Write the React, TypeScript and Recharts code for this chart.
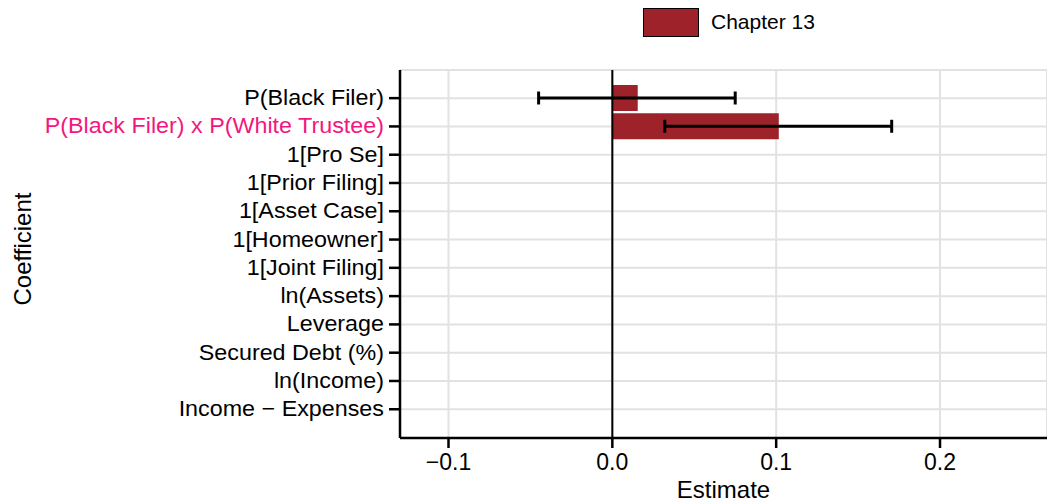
import React from 'react';
import { BarChart, Bar, XAxis, YAxis, CartesianGrid, ErrorBar, ReferenceLine } from 'recharts';

// Regression coefficients, top to bottom
const coefficients = [
  'P(Black Filer)',
  'P(Black Filer) x P(White Trustee)',
  '1[Pro Se]',
  '1[Prior Filing]',
  '1[Asset Case]',
  '1[Homeowner]',
  '1[Joint Filing]',
  'ln(Assets)',
  'Leverage',
  'Secured Debt (%)',
  'ln(Income)',
  'Income \u2212 Expenses',
];

// Point estimates and confidence bounds (Chapter 13); only the first two are plotted
const estimates: (number | null)[] = [0.0155, 0.1016, null, null, null, null, null, null, null, null, null, null];
const ciLow: (number | null)[] = [-0.045, 0.032, null, null, null, null, null, null, null, null, null, null];
const ciHigh: (number | null)[] = [0.075, 0.1705, null, null, null, null, null, null, null, null, null, null];

const highlighted = 'P(Black Filer) x P(White Trustee)';
const seriesName = 'Chapter 13';
const xTicks = [-0.1, 0, 0.1, 0.2];
const xDomain: [number, number] = [-0.1296, 0.2653];

const FONT = '"Liberation Sans", Arial, Helvetica, sans-serif';
const BAR_COLOR = '#9E2229';
const HIGHLIGHT_COLOR = '#F2177F';
const GRID_COLOR = '#E2E2E2';

const rows = coefficients.map((name, i) => {
  const est = estimates[i];
  const lo = ciLow[i];
  const hi = ciHigh[i];
  return {
    name,
    estimate: est,
    err: est == null || lo == null || hi == null ? undefined : [est - lo, hi - est],
  };
});

const fmtTick = (v: number) => (v < 0 ? `\u2212${Math.abs(v).toFixed(1)}` : v.toFixed(1));

const CoefTick = (props: any) => {
  const { x, y, payload } = props;
  const label = payload.value as string;
  return (
    <g transform={`translate(${x},${y})`}>
      <text
        transform="scale(1.06,1)"
        textAnchor="end"
        dy={7}
        fontSize={22}
        fontFamily={FONT}
        fill={label === highlighted ? HIGHLIGHT_COLOR : '#000'}
      >
        {label}
      </text>
    </g>
  );
};

const EstimateTick = (props: any) => {
  const { x, y, payload } = props;
  return (
    <text x={x} y={y} dy={18} textAnchor="middle" fontSize={23} fontFamily={FONT} fill="#000">
      {fmtTick(payload.value)}
    </text>
  );
};

const XTitle = (p: any) => {
  const vb = p.viewBox;
  return (
    <text x={vb.x + vb.width / 2} y={vb.y + 60} textAnchor="middle" fontSize={24} fontFamily={FONT} fill="#000">
      Estimate
    </text>
  );
};

const YTitle = (p: any) => {
  const vb = p.viewBox;
  const cx = 31;
  const cy = vb.y + vb.height / 2 - 5;
  return (
    <text
      x={cx}
      y={cy}
      transform={`rotate(-90 ${cx} ${cy})`}
      textAnchor="middle"
      fontSize={24}
      fontFamily={FONT}
      fill="#000"
    >
      Coefficient
    </text>
  );
};

export default function App() {
  return (
    <div style={{ position: 'absolute', left: 0, top: 0, width: 1047, height: 502, background: '#fff' }}>
      <BarChart
        width={1047}
        height={502}
        data={rows}
        layout="vertical"
        margin={{ top: 70, right: 0, bottom: 0, left: 0 }}
        barSize={26}
      >
        <CartesianGrid stroke={GRID_COLOR} strokeWidth={2} />
        <XAxis
          type="number"
          domain={xDomain}
          ticks={xTicks}
          allowDataOverflow
          height={64}
          tick={<EstimateTick />}
          tickSize={10}
          tickMargin={4}
          axisLine={{ stroke: '#000', strokeWidth: 2.5 }}
          tickLine={{ stroke: '#000', strokeWidth: 2.5 }}
          label={{ content: XTitle }}
        />
        <YAxis
          type="category"
          dataKey="name"
          width={400}
          padding={{ top: 14, bottom: 14.6 }}
          interval={0}
          tick={<CoefTick />}
          tickSize={11}
          tickMargin={5}
          axisLine={{ stroke: '#000', strokeWidth: 2.5 }}
          tickLine={{ stroke: '#000', strokeWidth: 2.5 }}
          label={{ content: YTitle }}
        />
        <Bar dataKey="estimate" name={seriesName} fill={BAR_COLOR} isAnimationActive={false}>
          <ErrorBar dataKey="err" direction="x" width={6.5} stroke="#000" strokeWidth={3} isAnimationActive={false} />
        </Bar>
        <ReferenceLine x={0} stroke="#000" strokeWidth={2} />
      </BarChart>
      {/* series legend */}
      <div
        style={{
          position: 'absolute',
          left: 643,
          top: 7,
          display: 'flex',
          alignItems: 'center',
          fontFamily: FONT,
          fontSize: 21,
          color: '#000',
        }}
      >
        <div style={{ width: 54, height: 27, background: BAR_COLOR, border: '1.5px solid #000' }} />
        <span style={{ marginLeft: 12, lineHeight: '30px' }}>{seriesName}</span>
      </div>
    </div>
  );
}
